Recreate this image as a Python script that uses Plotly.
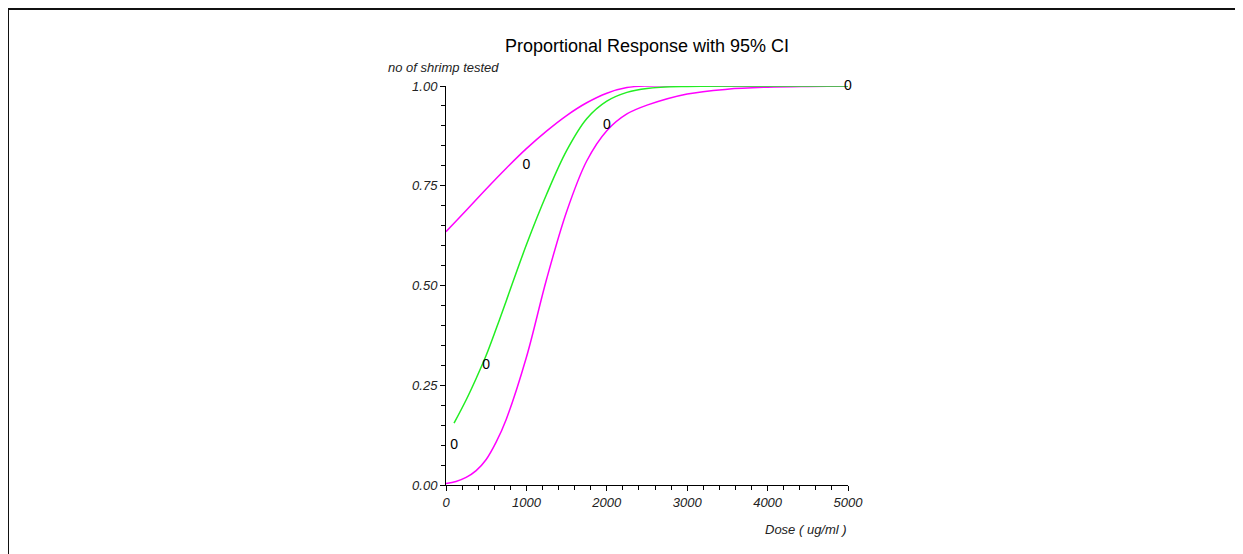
import plotly.graph_objects as go

# ---- data ----
dose_obs = [100, 500, 1000, 2000, 5000]
resp_obs = [0.10, 0.30, 0.80, 0.90, 1.00]

dose_fit = [100, 250, 375, 500, 625, 750, 1000, 1250, 1500, 1750, 2000, 2250, 2500, 3000, 4000, 5000]
resp_fit = [0.155, 0.213, 0.267, 0.325, 0.392, 0.462, 0.602, 0.728, 0.838, 0.918, 0.962, 0.984, 0.994, 0.999, 1.0, 1.0]

dose_lo = [0, 125, 250, 375, 500, 625, 750, 1000, 1250, 1500, 1750, 2000, 2250, 2500, 3000, 3500, 4000, 4500, 5000]
resp_lo = [0.004, 0.009, 0.019, 0.036, 0.064, 0.108, 0.165, 0.32, 0.515, 0.685, 0.812, 0.888, 0.93, 0.952, 0.98, 0.992, 0.997, 0.999, 1.0]

dose_hi = [0, 250, 500, 750, 1000, 1250, 1500, 1750, 2000, 2250, 2500, 3000, 5000]
resp_hi = [0.635, 0.688, 0.742, 0.794, 0.843, 0.887, 0.926, 0.958, 0.982, 0.996, 1.0, 1.0, 1.0]

x_ticks = [0, 1000, 2000, 3000, 4000, 5000]
y_ticks = [0.0, 0.25, 0.50, 0.75, 1.00]
y_tick_labels = ["0.00", "0.25", "0.50", "0.75", "1.00"]

# ---- layout geometry (pixels, page coords; the page body adds an 8px offset) ----
OFF = 8
W, H = 1260, 570
L, R, T, B = 446 - OFF, 848 - OFF, 86 - OFF, 485 - OFF

def px_x(p):
    return (p - OFF - L) / (R - L)

def px_y(p):
    return (B - (p - OFF)) / (B - T)

FONT = "Liberation Sans, Arial, sans-serif"
MAG = "#ff00ff"
GRN = "#22ee22"

fig = go.Figure()
fig.add_trace(go.Scatter(x=dose_hi, y=resp_hi, mode="lines",
                         line=dict(color=MAG, width=1.5, shape="spline", smoothing=1.0), hoverinfo="skip"))
fig.add_trace(go.Scatter(x=dose_lo, y=resp_lo, mode="lines",
                         line=dict(color=MAG, width=1.5, shape="spline", smoothing=1.0), hoverinfo="skip"))
fig.add_trace(go.Scatter(x=dose_fit, y=resp_fit, mode="lines",
                         line=dict(color=GRN, width=1.5, shape="spline", smoothing=1.0), hoverinfo="skip"))
fig.add_trace(go.Scatter(x=dose_obs, y=resp_obs, mode="text", text=["0"] * len(dose_obs),
                         textposition="middle center",
                         textfont=dict(family=FONT, size=14, color="black"),
                         cliponaxis=False, hoverinfo="skip"))

axis_common = dict(showgrid=False, zeroline=False, showline=True, linecolor="black", linewidth=1,
                   ticks="outside", ticklen=5, tickwidth=1, tickcolor="black",
                   tickfont=dict(family=FONT, size=13, color="#222222", style="italic"))

fig.update_xaxes(range=[0, 5000], tickvals=x_ticks, ticktext=[str(v) for v in x_ticks],
                 minor=dict(dtick=200, ticklen=4, tickcolor="black", ticks="outside"),
                 **axis_common)
fig.update_yaxes(range=[0, 1], tickvals=y_ticks, ticktext=y_tick_labels,
                 minor=dict(dtick=0.05, ticklen=4, tickcolor="black", ticks="outside"),
                 **axis_common)

fig.update_layout(
    width=W, height=H,
    margin=dict(l=L, r=W - R, t=T, b=H - B, pad=0),
    paper_bgcolor="white", plot_bgcolor="white",
    showlegend=False,
    title=dict(text="Proportional Response with 95% CI", x=0.5, xref="paper", xanchor="center",
               y=1 - (46 - OFF) / H, yref="container", yanchor="middle",
               font=dict(family=FONT, size=18, color="black")),
    annotations=[
        dict(text="no of shrimp tested", xref="paper", yref="paper", x=px_x(386), y=px_y(68),
             xanchor="left", yanchor="middle", showarrow=False,
             font=dict(family=FONT, size=13, color="#222222", style="italic")),
        dict(text="Dose ( ug/ml )", xref="paper", yref="paper", x=px_x(849), y=px_y(529),
             xanchor="right", yanchor="middle", showarrow=False,
             font=dict(family=FONT, size=13, color="#222222", style="italic")),
    ],
    shapes=[
        dict(type="line", xref="paper", yref="paper", x0=px_x(8), x1=px_x(1300),
             y0=px_y(9), y1=px_y(9), line=dict(color="#111111", width=2)),
        dict(type="line", xref="paper", yref="paper", x0=px_x(8), x1=px_x(8),
             y0=px_y(9), y1=px_y(620), line=dict(color="#111111", width=2)),
    ],
)

fig.write_html("out.html")
